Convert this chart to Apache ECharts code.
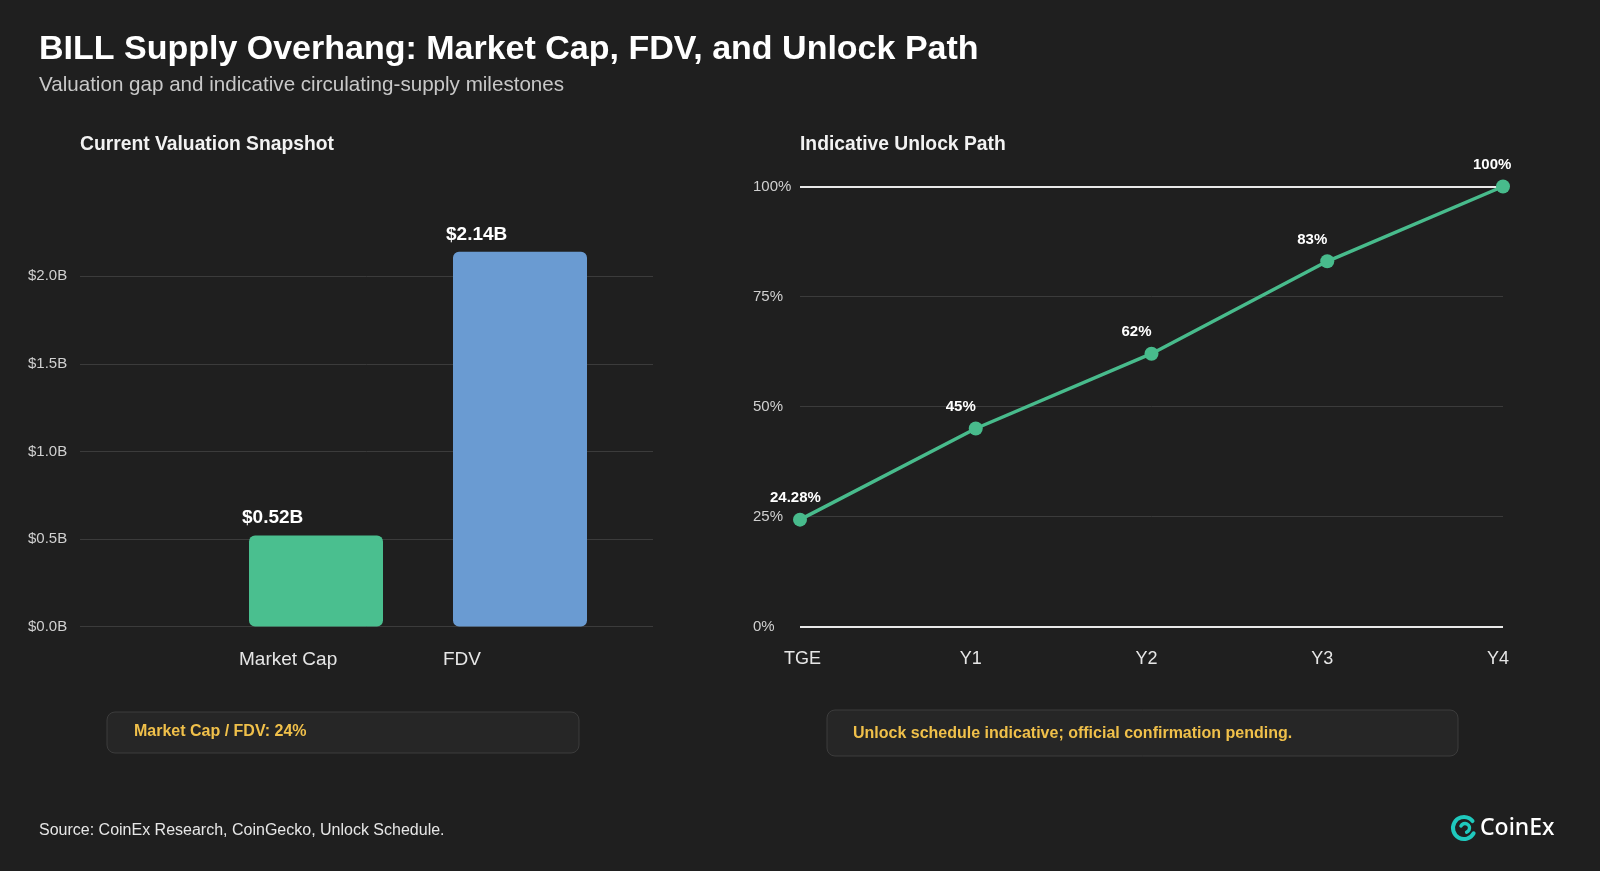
<!DOCTYPE html>
<html>
<head>
<meta charset="utf-8">
<title>BILL Supply Overhang</title>
<script src="https://cdn.jsdelivr.net/npm/echarts@6/dist/echarts.min.js"></script>
<style>
  html, body { margin: 0; padding: 0; background: #1f1f1f; }
  #chart { width: 1600px; height: 871px; }
</style>
</head>
<body>
<div id="chart"></div>
<script>
// valuation snapshot (USD billions)
const valuationCategories = ['Market Cap', 'FDV'];
const valuationValues = [0.52, 2.14];
const valuationColors = ['#4abf8f', '#6a9bd2'];

// indicative unlock path (% of supply circulating)
const unlockCategories = ['TGE', 'Y1', 'Y2', 'Y3', 'Y4'];
const unlockValues = [24.28, 45, 62, 83, 100];

const FONT = '"Liberation Sans", Arial, sans-serif';
const GRID_COLOR = '#3b3b3b';
const AXIS_TEXT = '#d0d0d0';

const chart = echarts.init(document.getElementById('chart'));

// shared vertical geometry for both panels
const plotTop = 188.75;     // left panel: top of a 0..2.5 axis
const plotBottom = 244.5;
const lineTop = 186.5;
const lineBottom = 244.5;

const option = {
  backgroundColor: '#1f1f1f',
  textStyle: { fontFamily: FONT },
  grid: [
    // left: gridlines + y labels
    { left: 80, right: 947, top: plotTop, bottom: plotBottom },
    // left: bars
    { left: 214, width: 408, top: plotTop, bottom: plotBottom },
    // right: unlock path
    { left: 800, right: 97, top: lineTop, bottom: lineBottom }
  ],
  xAxis: [
    { gridIndex: 0, type: 'category', data: valuationCategories, show: false },
    {
      gridIndex: 1,
      type: 'category',
      data: valuationCategories,
      axisLine: { show: false },
      axisTick: { show: false },
      axisLabel: {
        color: '#e6e6e6',
        fontSize: 19,
        fontFamily: FONT,
        margin: 24,
        align: 'left',
        padding: [0, 0, 0, -77]
      }
    },
    {
      gridIndex: 2,
      type: 'category',
      data: unlockCategories,
      boundaryGap: false,
      axisLine: { show: false },
      axisTick: { show: false },
      axisLabel: {
        color: '#e6e6e6',
        fontSize: 18,
        fontFamily: FONT,
        margin: 24,
        align: 'left',
        padding: [0, 0, 0, -16]
      }
    }
  ],
  yAxis: [
    {
      gridIndex: 0,
      type: 'value',
      min: 0,
      max: 2.5,
      interval: 0.5,
      axisLine: { show: false },
      axisTick: { show: false },
      axisLabel: {
        color: AXIS_TEXT,
        fontSize: 15,
        fontFamily: FONT,
        align: 'left',
        margin: 52,
        showMaxLabel: false,
        formatter: v => '$' + v.toFixed(1) + 'B'
      },
      splitLine: { showMaxLine: false, lineStyle: { color: GRID_COLOR, width: 1 } }
    },
    { gridIndex: 1, type: 'value', min: 0, max: 2.5, show: false },
    {
      gridIndex: 2,
      type: 'value',
      min: 0,
      max: 100,
      interval: 25,
      axisLine: { show: false },
      axisTick: { show: false },
      axisLabel: {
        color: AXIS_TEXT,
        fontSize: 15,
        fontFamily: FONT,
        align: 'left',
        margin: 47,
        formatter: v => v + '%'
      },
      splitLine: { lineStyle: { color: GRID_COLOR, width: 1 } }
    }
  ],
  series: [
    {
      type: 'bar',
      xAxisIndex: 1,
      yAxisIndex: 1,
      barWidth: 134,
      data: valuationValues.map((v, i) => ({
        value: v,
        itemStyle: { color: valuationColors[i], borderRadius: 6 }
      })),
      label: {
        show: true,
        position: 'top',
        distance: 8,
        align: 'left',
        offset: [-74, 0],
        color: '#ffffff',
        fontSize: 19,
        fontWeight: 'bold',
        fontFamily: FONT,
        formatter: p => '$' + p.value.toFixed(2) + 'B'
      },
      silent: true
    },
    {
      type: 'line',
      xAxisIndex: 2,
      yAxisIndex: 2,
      data: unlockValues,
      symbol: 'circle',
      symbolSize: 14,
      lineStyle: { color: '#48bb8c', width: 3.5 },
      itemStyle: { color: '#48bb8c' },
      label: {
        show: true,
        position: 'top',
        distance: 7,
        align: 'left',
        offset: [-30, 0],
        color: '#ffffff',
        fontSize: 15,
        fontWeight: 'bold',
        fontFamily: FONT,
        formatter: p => p.value + '%'
      },
      markLine: {
        silent: true,
        symbol: 'none',
        label: { show: false },
        lineStyle: { color: '#e8e8e8', width: 2, type: 'solid' },
        data: [{ yAxis: 0 }, { yAxis: 100 }],
        z: 1
      },
      z: 3
    }
  ],
  graphic: [
    {
      type: 'text', x: 39, y: 50,
      style: { text: 'BILL Supply Overhang: Market Cap, FDV, and Unlock Path', fill: '#ffffff',
        font: 'bold 34px ' + FONT, verticalAlign: 'middle' }
    },
    {
      type: 'text', x: 39, y: 85,
      style: { text: 'Valuation gap and indicative circulating-supply milestones', fill: '#c8c8c8',
        font: '20.6px ' + FONT, verticalAlign: 'middle' }
    },
    {
      type: 'text', x: 80, y: 145,
      style: { text: 'Current Valuation Snapshot', fill: '#f2f2f2',
        font: 'bold 19.3px ' + FONT, verticalAlign: 'middle' }
    },
    {
      type: 'text', x: 800, y: 145,
      style: { text: 'Indicative Unlock Path', fill: '#f2f2f2',
        font: 'bold 19.3px ' + FONT, verticalAlign: 'middle' }
    },
    // note boxes
    {
      type: 'rect', shape: { x: 107, y: 712, width: 472, height: 41, r: 8 },
      style: { fill: '#262626', stroke: '#3c3c3c', lineWidth: 1 }
    },
    {
      type: 'text', x: 134, y: 732,
      style: { text: 'Market Cap / FDV: 24%', fill: '#f0c04a',
        font: 'bold 16px ' + FONT, verticalAlign: 'middle' }
    },
    {
      type: 'rect', shape: { x: 827, y: 710, width: 631, height: 46, r: 8 },
      style: { fill: '#262626', stroke: '#3c3c3c', lineWidth: 1 }
    },
    {
      type: 'text', x: 853, y: 734,
      style: { text: 'Unlock schedule indicative; official confirmation pending.', fill: '#f0c04a',
        font: 'bold 16px ' + FONT, verticalAlign: 'middle' }
    },
    // footer
    {
      type: 'text', x: 39, y: 831,
      style: { text: 'Source: CoinEx Research, CoinGecko, Unlock Schedule.', fill: '#e6e6e6',
        font: '16px ' + FONT, verticalAlign: 'middle' }
    },
    // CoinEx mark
    {
      type: 'arc', shape: { cx: 1464, cy: 828, r: 11, startAngle: 0.5, endAngle: 5.6, clockwise: true },
      style: { stroke: '#1fc9bd', lineWidth: 4, fill: null, lineCap: 'round' }
    },
    {
      type: 'arc', shape: { cx: 1465, cy: 828, r: 4.5, startAngle: 3.6, endAngle: 1.2, clockwise: true },
      style: { stroke: '#1fc9bd', lineWidth: 3.5, fill: null, lineCap: 'round' }
    },
    {
      type: 'text', x: 1480, y: 828,
      style: { text: 'CoinEx', fill: '#ffffff', font: '500 23px "Noto Sans", ' + FONT, verticalAlign: 'middle' }
    }
  ]
};

chart.setOption(option);
</script>
</body>
</html>
